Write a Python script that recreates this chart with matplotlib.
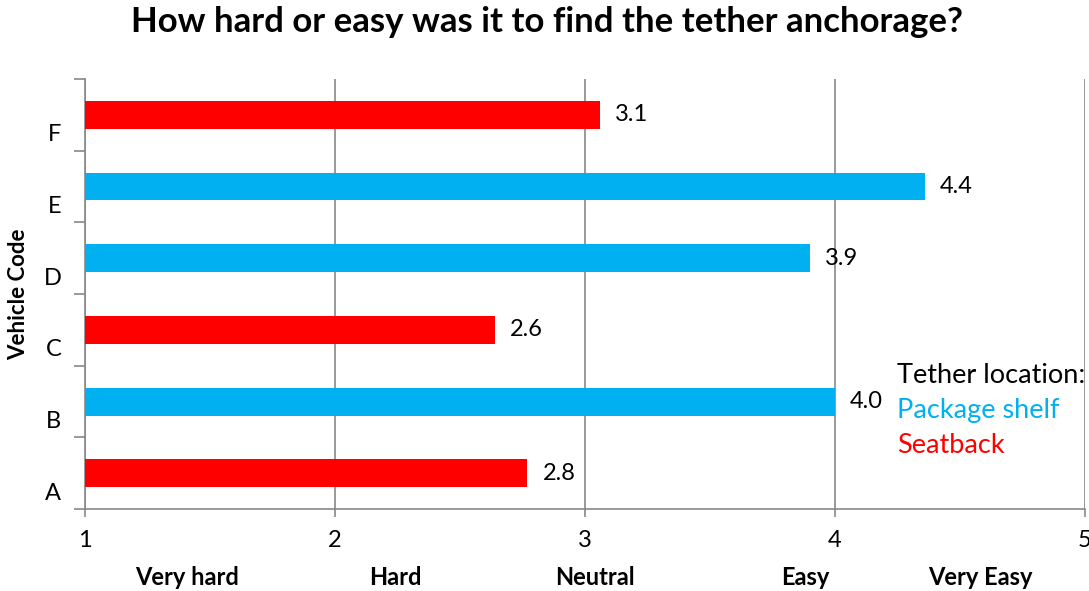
import matplotlib.pyplot as plt

plt.rcParams['font.family'] = ['Lato', 'DejaVu Sans']

codes = ['A', 'B', 'C', 'D', 'E', 'F']
scores = [2.77, 4.00, 2.64, 3.90, 4.36, 3.06]
locations = ['Seatback', 'Package shelf', 'Seatback', 'Package shelf', 'Package shelf', 'Seatback']
scale_labels = ['Very hard', 'Hard', 'Neutral', 'Easy', 'Very Easy']
scale_label_pos = [1.41, 2.24, 3.04, 3.88, 4.58]

colors = {'Package shelf': '#00B0F0', 'Seatback': '#FF0000'}
grey = '#878787'

fig = plt.figure(figsize=(10.89, 5.91), dpi=100)
ax = fig.add_axes([0.078, 0.1387, 0.9183, 0.7276])

ypos = list(range(len(codes)))
ax.barh(ypos, [s - 1 for s in scores], left=1, height=0.39,
        color=[colors[l] for l in locations], zorder=3)

for y, s in zip(ypos, scores):
    ax.text(s + 0.06, y, f'{s:.1f}', va='center', ha='left', fontsize=17, zorder=4)

ax.set_xlim(1, 5)
ax.set_ylim(-0.5, 5.5)
ax.set_xticks([1, 2, 3, 4, 5])
ax.set_xticklabels(['1', '2', '3', '4', '5'], fontsize=17)
ax.tick_params(axis='x', length=6, width=1.2, color=grey, pad=9)

# category boundaries as ticks, labels sit a bit lower
ax.set_yticks([i - 0.5 for i in range(len(codes) + 1)], minor=True)
ax.set_yticks([i - 0.25 for i in ypos])
ax.set_yticklabels(codes, fontsize=17)
ax.tick_params(axis='y', which='major', length=0, pad=17)
ax.tick_params(axis='y', which='minor', length=8, width=1.2, color=grey)

ax.grid(axis='x', color=grey, linewidth=1.2, zorder=0)
for side in ['top', 'right']:
    ax.spines[side].set_visible(False)
for side in ['left', 'bottom']:
    ax.spines[side].set_color(grey)
    ax.spines[side].set_linewidth(1.2)

ax.set_ylabel('Vehicle Code', fontsize=16, fontweight='bold')
ax.yaxis.set_label_coords(-0.056, 0.5)

for lab, x in zip(scale_labels, scale_label_pos):
    ax.text(x, -1.45, lab, ha='center', va='center', fontsize=17, fontweight='bold')

ax.text(4.25, 1.37, 'Tether location:', fontsize=19.5, va='center', ha='left')
ax.text(4.25, 0.88, 'Package shelf', fontsize=19.5, va='center', ha='left', color=colors['Package shelf'])
ax.text(4.25, 0.39, 'Seatback', fontsize=19.5, va='center', ha='left', color=colors['Seatback'])

fig.suptitle('How hard or easy was it to find the tether anchorage?',
             fontsize=25, fontweight='bold', x=0.502, y=0.99, va='top')

fig.savefig('out.png', dpi=100)
